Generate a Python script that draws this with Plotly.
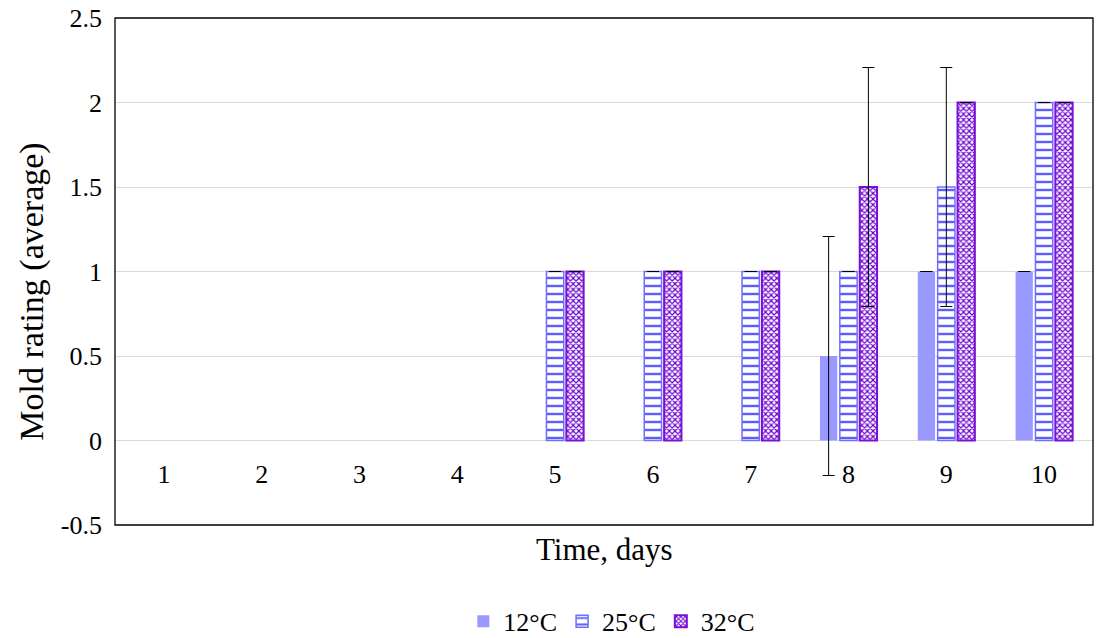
import plotly.graph_objects as go

# Mold rating per storage temperature, days 1-10
days = ["1", "2", "3", "4", "5", "6", "7", "8", "9", "10"]
rating_12c = [0, 0, 0, 0, 0, 0, 0, 0.5, 1, 1]
rating_25c = [0, 0, 0, 0, 1, 1, 1, 1, 1.5, 2]
rating_32c = [0, 0, 0, 0, 1, 1, 1, 1.5, 2, 2]
sd_12c = [0, 0, 0, 0, 0, 0, 0, 0.707, 0, 0]
sd_25c = [0, 0, 0, 0, 0, 0, 0, 0, 0.707, 0]
sd_32c = [0, 0, 0, 0, 0, 0, 0, 0.707, 0, 0]

y_ticks = [-0.5, 0, 0.5, 1, 1.5, 2, 2.5]
y_tick_text = ["-0.5", "0", "0.5", "1", "1.5", "2", "2.5"]

FONT = "Liberation Serif, Times New Roman, serif"
err_style = dict(type="data", color="black", thickness=1, width=6, visible=True)


def bar_errors(values, errors):
    # no error cap on empty (zero-height) bars; "NaN" is skipped by plotly.js
    return [e if v > 0 else "NaN" for v, e in zip(values, errors)]


def outline_widths(values, w):
    # empty bars get no outline
    return [w if v > 0 else 0 for v in values]


def rev(seq):
    # points are fed last-day-first so the legend swatch takes its style
    # from a filled bar; the axis keeps day order via categoryarray
    return list(seq)[::-1]


fig = go.Figure()
fig.add_trace(go.Bar(
    name="12°C", x=rev(days), y=rev(rating_12c),
    marker=dict(color="#9999ff", line=dict(width=0)),
    error_y=dict(array=rev(bar_errors(rating_12c, sd_12c)), **err_style),
))
fig.add_trace(go.Bar(
    name="25°C", x=rev(days), y=rev(rating_25c),
    marker=dict(color="white",
                line=dict(color="#6f6fff", width=rev(outline_widths(rating_25c, 1.5))),
                pattern=dict(shape="-", fgcolor="#5c5cff", bgcolor="white",
                             size=8, solidity=0.3, fillmode="replace")),
    error_y=dict(array=rev(bar_errors(rating_25c, sd_25c)), **err_style),
))
fig.add_trace(go.Bar(
    name="32°C", x=rev(days), y=rev(rating_32c),
    marker=dict(color="white",
                line=dict(color="#7a10d8", width=rev(outline_widths(rating_32c, 2))),
                pattern=dict(shape="x", fgcolor="#6a00cc", bgcolor="white",
                             size=4, solidity=0.5, fillmode="replace")),
    error_y=dict(array=rev(bar_errors(rating_32c, sd_32c)), **err_style),
))

fig.update_layout(
    width=1099, height=638,
    margin=dict(l=115, r=6, t=18, b=113, autoexpand=False),
    paper_bgcolor="white", plot_bgcolor="white",
    font=dict(family=FONT, size=26, color="black"),
    barmode="group", bargap=0.39, bargroupgap=0.13,
    showlegend=True,
    legend=dict(orientation="h", x=0.508, xanchor="center", y=-0.19, yanchor="middle",
                font=dict(size=26), itemwidth=30, traceorder="normal"),
    xaxis=dict(
        type="category", categoryorder="array", categoryarray=days,
        anchor="free", position=1/6,
        showline=False, showgrid=False, ticks="", zeroline=False,
        tickfont=dict(size=26), ticklabelstandoff=15,
    ),
    yaxis=dict(
        range=[-0.5, 2.5], domain=[0, 1],
        tickmode="array", tickvals=y_ticks, ticktext=y_tick_text,
        showgrid=True, gridcolor="#d9d9d9", gridwidth=1.3,
        zeroline=False, showline=False, ticks="",
        tickfont=dict(size=26), ticklabelstandoff=12,
    ),
    shapes=[dict(type="rect", xref="paper", yref="paper", x0=0, x1=1, y0=0, y1=1,
                 line=dict(color="black", width=1.3), layer="above")],
    annotations=[
        dict(text="Time, days", xref="paper", yref="paper", x=0.5, y=-0.049,
             xanchor="center", yanchor="middle", showarrow=False, font=dict(size=31)),
        dict(text="Mold rating (average)", xref="paper", yref="paper", x=-0.085, y=0.46,
             xanchor="center", yanchor="middle", textangle=-90, showarrow=False,
             font=dict(size=34)),
    ],
)

fig.write_html("out.html")
